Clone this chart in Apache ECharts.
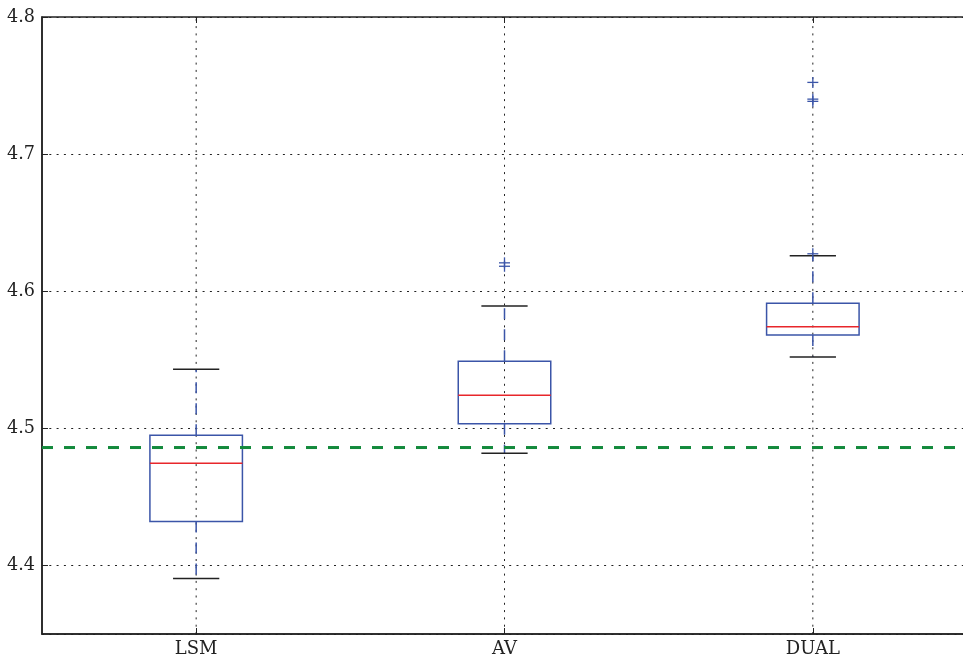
<!DOCTYPE html>
<html><head><meta charset="utf-8">
<script src="https://cdn.jsdelivr.net/npm/echarts@6/dist/echarts.min.js"></script>
<style>html,body{margin:0;padding:0;background:#fff}#c{width:963px;height:658px}</style>
</head><body><div id="c"></div>
<script>
const categories = ['LSM', 'AV', 'DUAL'];
const whiskerLow  = [4.3905, 4.4818, 4.5521];
const q1          = [4.4321, 4.5034, 4.5681];
const median      = [4.4745, 4.5241, 4.5740];
const q3          = [4.4949, 4.5489, 4.5912];
const whiskerHigh = [4.5431, 4.5893, 4.6258];
const outlierCat  = [1, 1, 2, 2, 2, 2];
const outlierVal  = [4.6207, 4.6182, 4.7523, 4.7401, 4.7385, 4.6273];
const baseline = 4.486;
const yMin = 4.35, yMax = 4.8;

const FONT = 'DejaVu Serif';
const BLUE = '#3b55a8', RED = '#e8262b', GREEN = '#138a3c', INK = '#222';

const chart = echarts.init(document.getElementById('c'), null, {renderer: 'canvas'});
const boxData = categories.map((c, i) => [i, whiskerLow[i], q1[i], median[i], q3[i], whiskerHigh[i]]);
const outData = outlierCat.map((c, i) => [c, outlierVal[i]]);

function renderBox(params, api) {
  const i = api.value(0);
  const band = api.size([1, 0])[0];
  const hb = band * 0.15, hc = band * 0.075;
  const cx = api.coord([i, api.value(3)])[0];
  const yL = api.coord([i, api.value(1)])[1];
  const y1 = api.coord([i, api.value(2)])[1];
  const ym = api.coord([i, api.value(3)])[1];
  const y3 = api.coord([i, api.value(4)])[1];
  const yH = api.coord([i, api.value(5)])[1];
  const line = (x1, ya, x2, yb, stroke, dash) => ({
    type: 'line', shape: {x1: x1, y1: ya, x2: x2, y2: yb},
    style: {stroke: stroke, lineWidth: 1.5, lineDash: dash || null, fill: null}
  });
  return {type: 'group', children: [
    line(cx, y3, cx, yH, BLUE, [11, 10]),
    line(cx, y1, cx, yL, BLUE, [11, 10]),
    line(cx - hc, yH, cx + hc, yH, INK),
    line(cx - hc, yL, cx + hc, yL, INK),
    {type: 'rect', shape: {x: cx - hb, y: y3, width: 2 * hb, height: y1 - y3},
     style: {fill: 'none', stroke: BLUE, lineWidth: 1.5}},
    line(cx - hb, ym, cx + hb, ym, RED)
  ]};
}

function renderVGrid(params, api) {
  const i = api.value(0);
  const top = api.coord([i, yMax]);
  const bot = api.coord([i, yMin]);
  return {type: 'line', shape: {x1: top[0], y1: bot[1], x2: top[0], y2: top[1]},
    style: {stroke: '#222', lineWidth: 1, lineDash: [2, 5.3]}};
}

function renderBaseline(params, api) {
  const cs = params.coordSys;
  const y = api.coord([0, api.value(0)])[1];
  return {type: 'line', shape: {x1: cs.x, y1: y, x2: cs.x + cs.width, y2: y},
    style: {stroke: GREEN, lineWidth: 3, lineDash: [11, 11]}};
}

function renderPlus(params, api) {
  const p = api.coord([api.value(0), api.value(1)]);
  const s = 5.5;
  return {type: 'group', children: [
    {type: 'line', shape: {x1: p[0] - s, y1: p[1], x2: p[0] + s, y2: p[1]}, style: {stroke: BLUE, lineWidth: 1.3}},
    {type: 'line', shape: {x1: p[0], y1: p[1] - s, x2: p[0], y2: p[1] + s}, style: {stroke: BLUE, lineWidth: 1.3}}
  ]};
}

chart.setOption({
  animation: false,
  backgroundColor: '#fff',
  grid: {left: 42, top: 17, width: 925, height: 617, outerBoundsMode: 'none', containLabel: false,
    show: true, borderColor: INK, borderWidth: 1.5, backgroundColor: 'transparent'},
  xAxis: [{
    type: 'category', data: categories, boundaryGap: true,
    axisLine: {show: true, lineStyle: {color: INK, width: 1.5}},
    axisTick: {show: true, inside: true, alignWithLabel: true, length: 6, lineStyle: {color: INK, width: 1}},
    axisLabel: {fontFamily: FONT, fontSize: 18, color: INK, margin: 6},
    splitLine: {show: false}
  }, {
    type: 'category', data: categories, boundaryGap: true, position: 'top',
    axisLine: {show: false},
    axisTick: {show: true, inside: true, alignWithLabel: true, length: 6, lineStyle: {color: INK, width: 1}},
    axisLabel: {show: false}, splitLine: {show: false}
  }],
  yAxis: {
    type: 'value', min: yMin, max: yMax, splitNumber: 5,
    axisLine: {show: true, lineStyle: {color: INK, width: 1.5}},
    axisTick: {show: true, inside: true, length: 6, lineStyle: {color: INK, width: 1}},
    axisLabel: {fontFamily: FONT, fontSize: 17.6, color: INK, margin: 7, showMinLabel: false,
      formatter: v => v.toFixed(1), padding: [0, 0, 6, 0]},
    splitLine: {show: true, lineStyle: {color: '#222', width: 1, type: [2, 5.3]}}
  },
  series: [{
    type: 'custom', renderItem: renderVGrid, data: categories.map((c, i) => [i]),
    encode: {x: 0}, z: 1, silent: true
  }, {
    type: 'custom', renderItem: renderBox, data: boxData,
    encode: {x: 0, y: [1, 2, 3, 4, 5]}, z: 3, silent: true
  }, {
    type: 'custom', renderItem: renderBaseline, data: [[baseline]],
    encode: {y: 0}, z: 4, silent: true
  }, {
    type: 'custom', renderItem: renderPlus, data: outData,
    encode: {x: 0, y: 1}, z: 3, silent: true
  }]
});
</script></body></html>
